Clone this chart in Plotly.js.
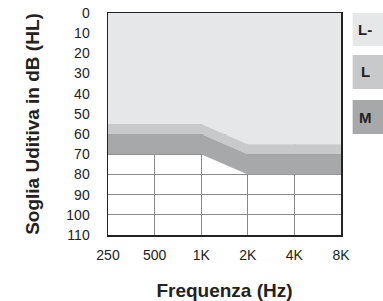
<!DOCTYPE html>
<html>
<head>
<meta charset="utf-8">
<script src="https://cdn.plot.ly/plotly-3.0.1.min.js"></script>
<style>html,body{margin:0;padding:0;background:#fff;}#chart{width:383px;height:301px;}</style>
</head>
<body>
<div id="chart"></div>
<script>
const freqLabels = ["250", "500", "1K", "2K", "4K", "8K"];
const freqIndex = [0, 1, 2, 3, 4, 5];
const boundaryLightMinus = [55, 55, 55, 65, 65, 65];
const boundaryLight = [60, 60, 60, 70, 70, 70];
const boundaryModerate = [70, 70, 70, 80, 80, 80];
const yTicks = [0, 10, 20, 30, 40, 50, 60, 70, 80, 90, 100, 110];
const legendLabels = ["L-", "L", "M"];
const colors = ["#e6e7e8", "#c8c9cb", "#a7a8aa"];

const traces = [
  {x: freqIndex, y: boundaryLightMinus, mode: "lines", line: {width: 0}, fill: "tozeroy", fillcolor: colors[0], hoverinfo: "skip", showlegend: false},
  {x: freqIndex, y: boundaryLight, mode: "lines", line: {width: 0}, fill: "tonexty", fillcolor: colors[1], hoverinfo: "skip", showlegend: false},
  {x: freqIndex, y: boundaryModerate, mode: "lines", line: {width: 0}, fill: "tonexty", fillcolor: colors[2], hoverinfo: "skip", showlegend: false}
];

const font = "Liberation Sans, Arial, sans-serif";
const boxY = [[1.0, 0.851], [0.811, 0.658], [0.608, 0.455]];
const shapes = legendLabels.map((l, i) => ({
  type: "rect", xref: "paper", yref: "paper", x0: 1.05, x1: 1.3, y0: boxY[i][1], y1: boxY[i][0],
  fillcolor: colors[i], line: {width: 0}
}));
const annotations = legendLabels.map((l, i) => ({
  xref: "paper", yref: "paper", x: 1.105, y: (boxY[i][0] + boxY[i][1]) / 2,
  text: "<b>" + l + "</b>", showarrow: false, xanchor: "center", yanchor: "middle",
  font: {family: font, size: 15, color: "#222"}
}));

const layout = {
  width: 383, height: 301,
  margin: {l: 108, r: 42, t: 13, b: 66},
  paper_bgcolor: "#fff", plot_bgcolor: "#fff",
  showlegend: false,
  xaxis: {
    range: [0, 5], tickvals: freqIndex, ticktext: freqLabels,
    showgrid: true, gridcolor: "#8a8a8a", gridwidth: 1, zeroline: false,
    showline: true, linecolor: "#222", linewidth: 1.5, mirror: true,
    ticks: "outside", ticklen: 7, tickcolor: "rgba(0,0,0,0)",
    tickfont: {family: font, size: 14, color: "#222"},
    title: {text: "<b>Frequenza (Hz)</b>", font: {family: font, size: 19, color: "#222"}, standoff: 23}
  },
  yaxis: {
    range: [110, 0], tickvals: yTicks,
    showgrid: true, gridcolor: "#8a8a8a", gridwidth: 1, zeroline: false,
    showline: true, linecolor: "#222", linewidth: 1.5, mirror: true,
    ticks: "outside", ticklen: 14, tickcolor: "rgba(0,0,0,0)",
    tickfont: {family: font, size: 14, color: "#222"},
    title: {text: "<b>Soglia Uditiva in dB (HL)</b>", font: {family: font, size: 19, color: "#222"}, standoff: 21}
  },
  shapes: shapes,
  annotations: annotations
};

Plotly.newPlot("chart", traces, layout, {staticPlot: true, displayModeBar: false});
</script>
</body>
</html>
